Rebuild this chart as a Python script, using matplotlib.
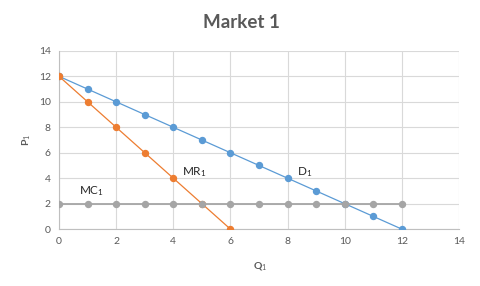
import matplotlib
matplotlib.use("Agg")
import matplotlib.pyplot as plt

plt.rcParams['font.family'] = ['Lato', 'DejaVu Sans']
plt.rcParams['mathtext.fontset'] = 'custom'
plt.rcParams['mathtext.rm'] = 'Lato'
plt.rcParams['mathtext.it'] = 'Lato'
plt.rcParams['mathtext.default'] = 'rm'

q_demand = [0, 1, 2, 3, 4, 5, 6, 7, 8, 9, 10, 11, 12]
p_demand = [12, 11, 10, 9, 8, 7, 6, 5, 4, 3, 2, 1, 0]
q_mr = [0, 1, 2, 3, 4, 5, 6]
p_mr = [12, 10, 8, 6, 4, 2, 0]
q_mc = [0, 1, 2, 3, 4, 5, 6, 7, 8, 9, 10, 11, 12]
p_mc = [2, 2, 2, 2, 2, 2, 2, 2, 2, 2, 2, 2, 2]
ticks = [0, 2, 4, 6, 8, 10, 12, 14]

blue = '#5B9BD5'
orange = '#ED7D31'
gray = '#A5A5A5'
txt = '#595959'

fig = plt.figure(figsize=(4.8, 2.86), dpi=100)
ax = fig.add_axes([0.123, 0.199, 0.833, 0.623])

ax.plot(q_demand, p_demand, color=blue, lw=0.9, marker='o', ms=4.3, zorder=3)
ax.plot(q_mr, p_mr, color=orange, lw=0.9, marker='o', ms=4.3, zorder=4)
ax.plot(q_mc, p_mc, color=gray, lw=1.3, marker='o', ms=4.3, zorder=5)

ax.set_xlim(0, 14)
ax.set_ylim(0, 14)
ax.set_xticks(ticks)
ax.set_yticks(ticks)
ax.grid(True, color='#D9D9D9', lw=0.8)
ax.set_axisbelow(True)
for s in ['top', 'right']:
    ax.spines[s].set_visible(False)
for s in ['left', 'bottom']:
    ax.spines[s].set_color('#BFBFBF')
    ax.spines[s].set_linewidth(0.8)
ax.tick_params(length=0, labelsize=7.5, colors=txt, pad=6)

ax.text(1.15, 3.0, r'MC$_1$', fontsize=8.5, color='#262626', ha='center', va='center')
ax.text(4.75, 4.5, r'MR$_1$', fontsize=8.5, color='#262626', ha='center', va='center')
ax.text(8.6, 4.5, r'D$_1$', fontsize=8.5, color='#262626', ha='center', va='center')

fig.text(0.503, 0.923, 'Market 1', fontsize=13.5, fontweight='bold', color=txt, ha='center', va='center')
fig.text(0.542, 0.07, r'Q$_1$', fontsize=7.5, fontweight='bold', color=txt, ha='center', va='center')
fig.text(0.056, 0.51, r'P$_1$', fontsize=7.5, fontweight='bold', color=txt, ha='center', va='center', rotation=90)

fig.savefig('out.png', dpi=100)
